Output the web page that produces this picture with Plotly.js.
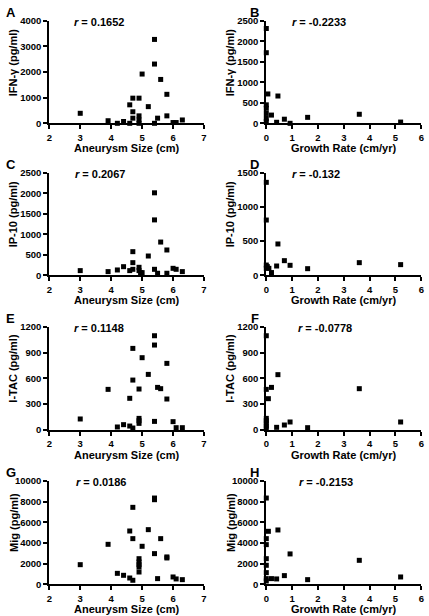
<!DOCTYPE html>
<html>
<head>
<meta charset="utf-8">
<script src="https://cdn.plot.ly/plotly-3.0.1.min.js"></script>
<style>html,body{margin:0;padding:0;background:#fff;}#chart{width:429px;height:616px;}</style>
</head>
<body>
<div id="chart"></div>
<script>
// ---- Data ----
const sizeA = [3.0,3.9,4.2,4.4,4.6,4.6,4.7,4.7,4.7,4.9,4.9,4.9,4.9,5.0,5.2,5.4,5.4,5.4,5.5,5.6,5.8,5.8,6.0,6.1,6.3];
const ifnA  = [390,100,0,70,720,0,980,450,200,980,290,130,0,1920,650,3270,2310,0,200,1710,1130,290,30,30,130];

const rateB = [0,0,0.06,0,0,0,0,0,0.2,0.45,0.4,0.7,0.92,1.6,3.6,5.2];
const ifnB  = [2310,1720,715,450,365,240,120,40,200,665,25,100,0,145,220,30];

const sizeC = [3.0,3.9,4.2,4.4,4.6,4.7,4.7,4.7,4.9,4.9,4.95,5.0,5.2,5.4,5.4,5.4,5.5,5.6,5.8,5.8,6.0,6.1,6.3];
const ip10C = [114,90,130,210,114,576,308,146,195,114,65,65,470,2010,1350,146,50,810,617,50,170,146,90];

const rateD = [0,0,0,0,0.04,0.1,0.2,0.4,0.45,0.7,0.92,1.6,3.6,5.2];
const ip10D = [1359,808,150,102,127,102,40,136,458,214,146,97,185,156];

const sizeE = [3.0,3.9,4.2,4.4,4.6,4.6,4.7,4.7,4.7,4.9,4.9,4.9,4.9,5.0,5.2,5.4,5.4,5.4,5.5,5.6,5.8,5.8,6.0,6.1,6.3];
const itacE = [128,472,35,62,368,46,948,580,23,476,135,108,77,840,646,1095,987,100,495,480,774,360,97,27,27];

const rateF = [0,0,0,0,0,0,0,0.08,0.2,0.4,0.45,0.7,0.92,1.6,3.6,5.2];
const itacF = [1095,472,135,108,77,46,19,364,495,31,643,58,93,27,480,93];

const sizeG = [3.0,3.9,4.2,4.4,4.6,4.6,4.7,4.7,4.7,4.9,4.9,4.9,4.9,4.9,5.0,5.2,5.4,5.4,5.4,5.5,5.6,5.8,5.8,6.0,6.1,6.3];
const migG  = [1900,3870,1060,870,5160,610,7450,4420,390,2480,2160,1900,1680,1190,3680,5290,8350,8190,2970,550,4420,2650,2550,710,520,450];

const rateH = [0,0,0,0.08,0,0,0,0,0,0.2,0.4,0.45,0.7,0.92,1.6,3.6,5.2];
const migH  = [8350,4420,3840,5130,2480,1840,1130,550,320,550,520,5260,840,2940,450,2320,710];

const panelLetters = ["A","B","C","D","E","F","G","H"];
const rValues = ["0.1652","-0.2233","0.2067","-0.132","0.1148","-0.0778","0.0186","-0.2153"];
const yTitles = ["IFN-γ (pg/ml)","IFN-γ (pg/ml)","IP-10 (pg/ml)","IP-10 (pg/ml)","I-TAC (pg/ml)","I-TAC (pg/ml)","Mig (pg/ml)","Mig (pg/ml)"];
const xTitles = ["Aneurysm Size (cm)","Growth Rate (cm/yr)"];
const yTickVals = [
  [0,1000,2000,3000,4000],
  [0,500,1000,1500,2000,2500],
  [0,500,1000,1500,2000,2500],
  [0,500,1000,1500],
  [0,300,600,900,1200],
  [0,300,600,900,1200],
  [0,2000,4000,6000,8000,10000],
  [0,2000,4000,6000,8000,10000]
];
const xTickValsSize = [2,3,4,5,6,7];
const xTickValsRate = [0,1,2,3,4,5,6];

// ---- Layout geometry (pixels) ----
const W = 429, H = 616;
const FONT = "Arial, 'Liberation Sans', sans-serif";
const colPx = [[49.3,204],[266.3,421.3]];
const rowPx = [[20.7,123.3],[172.7,275.3],[326.7,430],[481,584.3]];
const rXpx = [72,290,73,290,72,296,74,297];
const px2x = p => p / W;
const px2y = p => 1 - p / H;
const boldText = vals => vals.map(v => "<b>" + v + "</b>");

const xs = [sizeA,rateB,sizeC,rateD,sizeE,rateF,sizeG,rateH];
const ys = [ifnA,ifnB,ip10C,ip10D,itacE,itacF,migG,migH];

const data = [];
const layout = {
  width: W, height: H,
  margin: {l:0,r:0,t:0,b:0},
  paper_bgcolor: "#fff", plot_bgcolor: "#fff",
  showlegend: false,
  font: {family: FONT, color: "#000"},
  annotations: []
};

for (let i = 0; i < 8; i++) {
  const col = i % 2, row = Math.floor(i / 2);
  const n = i + 1;
  const xa = "x" + n, ya = "y" + n;
  data.push({
    x: xs[i], y: ys[i], type: "scatter", mode: "markers",
    xaxis: xa, yaxis: ya, cliponaxis: false,
    marker: {symbol: "square", size: 5, color: "#000"},
    hoverinfo: "skip"
  });
  const yt = yTickVals[i];
  const xt = col === 0 ? xTickValsSize : xTickValsRate;
  const axCommon = {
    showline: true, linewidth: 2, linecolor: "#000",
    ticks: "outside", ticklen: 4, tickwidth: 2, tickcolor: "#000",
    showgrid: false, zeroline: false, fixedrange: true,
    tickfont: {family: FONT, size: 9.5, color: "#000"}
  };
  layout["xaxis" + n] = Object.assign({}, axCommon, {
    domain: [px2x(colPx[col][0]), px2x(colPx[col][1])],
    anchor: ya, range: [xt[0], xt[xt.length-1]],
    tickmode: "array", tickvals: xt, ticktext: boldText(xt)
  });
  layout["yaxis" + n] = Object.assign({}, axCommon, {
    domain: [px2y(rowPx[row][1]), px2y(rowPx[row][0])],
    anchor: xa, range: [yt[0], yt[yt.length-1]],
    tickmode: "array", tickvals: yt, ticktext: boldText(yt)
  });
  const xc = (colPx[col][0] + colPx[col][1]) / 2;
  // x-axis title
  layout.annotations.push({
    text: "<b>" + xTitles[col] + "</b>", xref: "paper", yref: "paper",
    x: px2x(xc), y: px2y(rowPx[row][1] + 25), xanchor: "center", yanchor: "middle",
    showarrow: false, font: {family: FONT, size: 11, color: "#000"}
  });
  // y-axis title
  layout.annotations.push({
    text: "<b>" + yTitles[i] + "</b>", xref: "paper", yref: "paper",
    x: px2x(colPx[col][0] - 36), y: px2y((rowPx[row][0] + rowPx[row][1]) / 2 - 10),
    xanchor: "center", yanchor: "middle", textangle: -90,
    showarrow: false, font: {family: FONT, size: 11, color: "#000"}
  });
  // r annotation
  layout.annotations.push({
    text: "<b><i>r</i> = " + rValues[i] + "</b>", xref: "paper", yref: "paper",
    x: px2x(rXpx[i]), y: px2y(rowPx[row][0] + 1), xanchor: "left", yanchor: "middle",
    showarrow: false, font: {family: FONT, size: 11, color: "#000"}
  });
  // panel letter
  layout.annotations.push({
    text: "<b>" + panelLetters[i] + "</b>", xref: "paper", yref: "paper",
    x: px2x(col === 0 ? 10.8 : 254.8), y: px2y(rowPx[row][0] - 8.5),
    xanchor: "center", yanchor: "middle",
    showarrow: false, font: {family: FONT, size: 13, color: "#000"}
  });
}

Plotly.newPlot("chart", data, layout, {staticPlot: true, displayModeBar: false});
</script>
</body>
</html>
